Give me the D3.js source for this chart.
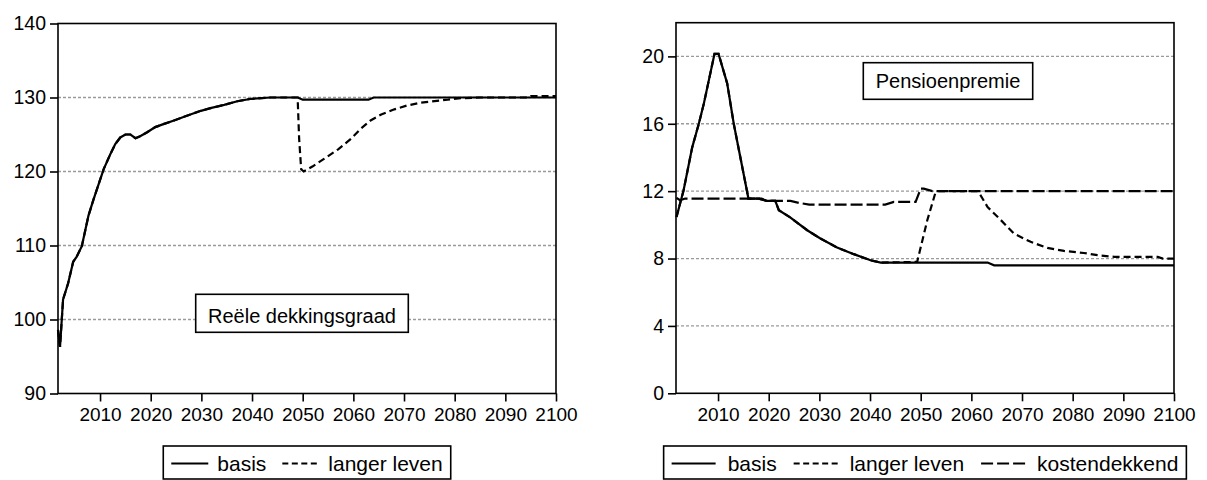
<!DOCTYPE html>
<html>
<head>
<meta charset="utf-8">
<script src="https://cdn.jsdelivr.net/npm/d3@7"></script>
<style>
  body { margin: 0; background: #fff; }
  svg { display: block; font-family: "Liberation Sans", Arial, sans-serif; }
</style>
</head>
<body>
<svg id="svg" width="1207" height="480"></svg>
<script>
// values, [year, value]
var yearTicks = [2010, 2020, 2030, 2040, 2050, 2060, 2070, 2080, 2090, 2100];
var dekkingTicks = [90, 100, 110, 120, 130, 140];
var dekkingGrid = [100, 110, 120, 130];
var premieTicks = [0, 4, 8, 12, 16, 20];
var premieGrid = [4, 8, 12, 16, 20];

var dekkingBasis = [
  [2001.7, 98.6], [2002.1, 96.3], [2002.7, 102.7], [2003.7, 104.9], [2004.7, 107.8],
  [2005.4, 108.5], [2006.4, 109.9], [2007.7, 114.0], [2008.7, 116.2], [2010.7, 120.3],
  [2012.0, 122.3], [2013.0, 123.7], [2014.0, 124.6], [2015.0, 125.0], [2016.0, 125.0],
  [2017.0, 124.5], [2018.0, 124.8], [2019.3, 125.3], [2020.9, 126.0], [2022.5, 126.4],
  [2024.6, 126.9], [2027.0, 127.5], [2029.9, 128.2], [2032.0, 128.6], [2034.5, 129.0],
  [2037.1, 129.5], [2039.6, 129.8], [2043.6, 130.0], [2049.0, 130.0], [2050.0, 129.7],
  [2063.0, 129.7], [2064.0, 130.0], [2100, 130.0]
];
var dekkingLangerTail = [
  [2049.3, 124.4], [2049.7, 120.3], [2050.2, 120.0], [2052.0, 120.7], [2054.2, 121.7],
  [2057.0, 123.0], [2059.5, 124.4], [2061.5, 125.8], [2063.4, 126.9], [2065.5, 127.7],
  [2068.1, 128.4], [2070.5, 128.9], [2073.3, 129.3], [2078.6, 129.7], [2081.2, 129.9],
  [2085.0, 130.0], [2094.5, 130.0], [2095.0, 130.2], [2100, 130.2]
];

var premieBasis = [
  [2001.8, 10.47], [2003.2, 12.05], [2004.9, 14.6], [2006.2, 16.0], [2007.2, 17.2],
  [2009.3, 20.15], [2010.1, 20.15], [2011.8, 18.4], [2013.1, 16.0], [2016.0, 11.56],
  [2018.0, 11.56], [2019.7, 11.42], [2021.3, 11.42], [2022.0, 10.87], [2024.3, 10.43],
  [2027.6, 9.68], [2030.2, 9.19], [2033.5, 8.65], [2036.8, 8.26], [2040.1, 7.9],
  [2042.1, 7.76], [2063.2, 7.76], [2064.5, 7.6], [2100, 7.6]
];
var premieLangerTail = [
  [2049.3, 7.8], [2051.3, 10.27], [2052.9, 11.9], [2053.5, 12.0], [2061.2, 12.0],
  [2061.8, 11.76], [2063.2, 11.06], [2065.8, 10.29], [2068.4, 9.48], [2071.7, 8.99],
  [2075.0, 8.63], [2078.3, 8.45], [2082.2, 8.33], [2084.9, 8.2], [2088.2, 8.1],
  [2096.8, 8.1], [2097.8, 8.0], [2100, 8.0]
];
var premieKosten = [
  [2001.8, 11.6], [2002.5, 11.46], [2003.5, 11.56], [2018.6, 11.56], [2019.5, 11.42],
  [2024.3, 11.42], [2026.0, 11.3], [2028.0, 11.2], [2043.0, 11.2], [2044.7, 11.36],
  [2049.0, 11.36], [2050.0, 12.15], [2050.6, 12.15], [2052.3, 12.0], [2100, 12.0]
];

// langer leven follows basis up to 2049
var dekkingLanger = dekkingBasis.filter(function(d){ return d[0] <= 2049; }).concat(dekkingLangerTail);
var premieLanger = premieBasis.filter(function(d){ return d[0] <= 2049; }).concat(premieLangerTail);

var svg = d3.select('svg');

function drawPanel(p) {
  var x = d3.scaleLinear().domain([2001.7, 2100]).range([p.left, p.right]);
  var y = d3.scaleLinear().domain(p.yDomain).range([p.bottom, p.top]);
  var g = svg.append('g');

  // grid
  g.selectAll('.grid')
      .data(p.grid)
      .enter()
      .append('line')
      .attr('x1', p.left).attr('x2', p.right)
      .attr('y1', function(d){ return y(d); })
      .attr('y2', function(d){ return y(d); })
      .attr('stroke', '#9a9a9a')
      .attr('stroke-width', 1.3)
      .attr('stroke-dasharray', '3,2');

  // series
  var line = d3.line()
      .x(function(d){ return x(d[0]); })
      .y(function(d){ return y(d[1]); });

  p.series.forEach(function(s){
    g.append('path')
        .attr('d', line(s.data))
        .attr('fill', 'none')
        .attr('stroke', '#000')
        .attr('stroke-width', 2.2)
        .attr('stroke-dasharray', s.dash);
  });

  // frame
  g.append('rect')
      .attr('x', p.left).attr('y', p.top)
      .attr('width', p.right - p.left).attr('height', p.bottom - p.top)
      .attr('fill', 'none')
      .attr('stroke', '#000')
      .attr('stroke-width', 1.6);

  // axes
  var ya = g.append('g')
      .attr('transform', 'translate(' + p.left + ',0)')
      .call(d3.axisLeft(y).tickValues(p.ticks).tickSize(8).tickPadding(4));
  var xa = g.append('g')
      .attr('transform', 'translate(0,' + p.bottom + ')')
      .call(d3.axisBottom(x).tickValues(yearTicks).tickSize(8).tickPadding(6).tickFormat(d3.format('d')));
  [ya, xa].forEach(function(a){
    a.select('.domain').remove();
    a.attr('font-family', '"Liberation Sans", Arial, sans-serif');
    a.selectAll('line').attr('stroke', '#000').attr('stroke-width', 1.6);
    a.selectAll('text').attr('fill', '#000');
  });
  ya.attr('font-size', 19.5);
  xa.attr('font-size', 19);

  // label box inside the plot
  var lb = g.append('g');
  lb.append('rect')
      .attr('x', p.label.cx - p.label.w / 2)
      .attr('y', p.label.top)
      .attr('width', p.label.w)
      .attr('height', p.label.h)
      .attr('fill', '#fff')
      .attr('stroke', '#000')
      .attr('stroke-width', 1.6);
  lb.append('text')
      .attr('x', p.label.cx)
      .attr('y', p.label.baseline)
      .attr('text-anchor', 'middle')
      .attr('font-size', 20)
      .text(p.label.text);

  // legend
  var lg = g.append('g');
  var lgRect = lg.append('rect')
      .attr('fill', '#fff')
      .attr('stroke', '#000')
      .attr('stroke-width', 1.6);
  var cx = 0;
  var lgY = 463.5;
  p.series.forEach(function(s, i){
    if (i > 0) cx += p.itemGap;
    lg.append('line')
        .attr('x1', cx).attr('x2', cx + p.sampleLen)
        .attr('y1', lgY).attr('y2', lgY)
        .attr('stroke', '#000')
        .attr('stroke-width', 2)
        .attr('stroke-dasharray', s.legendDash);
    cx += p.sampleLen + p.textGap;
    var t = lg.append('text')
        .attr('x', cx)
        .attr('y', 471)
        .attr('font-size', 21)
        .text(s.name);
    cx += t.node().getComputedTextLength();
  });
  var pad = 8;
  var lgW = cx + pad * 2;
  var lgX = (p.left + p.right) / 2 - lgW / 2;
  lg.selectAll('line, text').attr('transform', 'translate(' + (lgX + pad) + ',0)');
  lgRect.attr('x', lgX).attr('y', 446).attr('width', lgW).attr('height', 33);
}

drawPanel({
  left: 58, right: 556, top: 23.5, bottom: 393.5,
  yDomain: [90, 140],
  ticks: dekkingTicks,
  grid: dekkingGrid,
  sampleLen: 37, textGap: 9, itemGap: 16,
  label: { text: 'Reële dekkingsgraad', cx: 302, baseline: 323, top: 294.3, w: 212.6, h: 38 },
  series: [
    { name: 'basis', data: dekkingBasis, dash: null, legendDash: null },
    { name: 'langer leven', data: dekkingLanger, dash: '7,4', legendDash: '6,3.5' }
  ]
});

drawPanel({
  left: 676, right: 1174, top: 22.7, bottom: 393.3,
  yDomain: [0, 22],
  ticks: premieTicks,
  grid: premieGrid,
  sampleLen: 44, textGap: 12, itemGap: 17,
  label: { text: 'Pensioenpremie', cx: 948, baseline: 88.3, top: 62.7, w: 169.4, h: 36.6 },
  series: [
    { name: 'basis', data: premieBasis, dash: null, legendDash: null },
    { name: 'langer leven', data: premieLanger, dash: '7,4', legendDash: '6,3.5' },
    { name: 'kostendekkend', data: premieKosten, dash: '12,4', legendDash: '12,4' }
  ]
});
</script>
</body>
</html>
